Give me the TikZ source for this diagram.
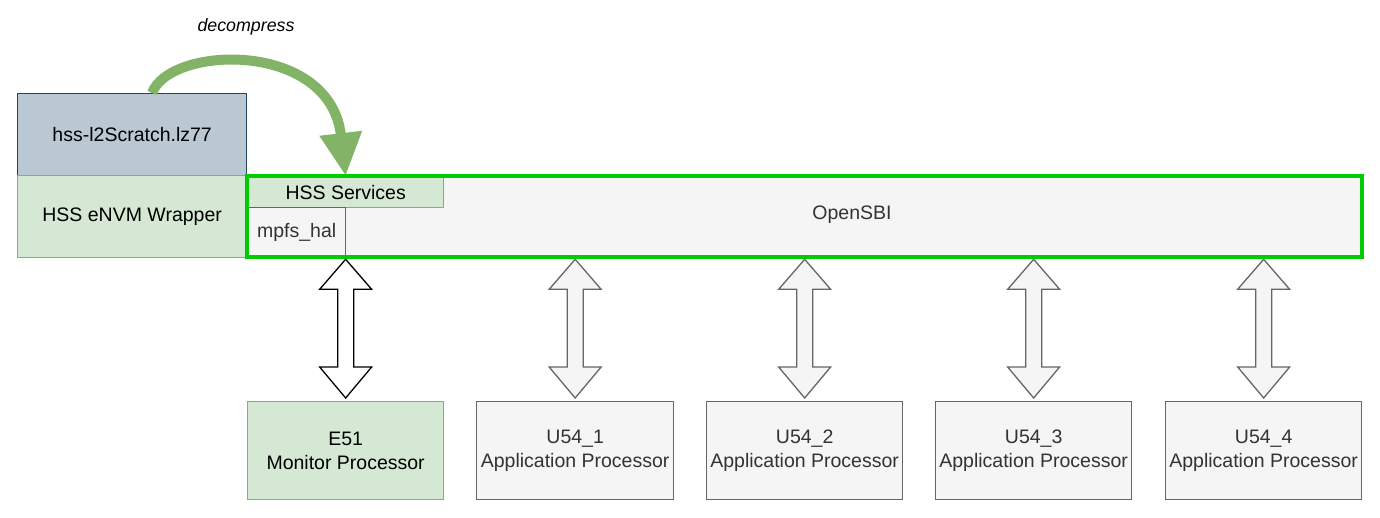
\documentclass[tikz,border=0pt]{standalone}
\usepackage{fontspec}
\setmainfont{Liberation Sans}
\usetikzlibrary{arrows.meta,calc}
\definecolor{blueF}{HTML}{BAC8D3}
\definecolor{blueD}{HTML}{23445D}
\definecolor{greenF}{HTML}{D5E8D4}
\definecolor{greenD}{HTML}{82B366}
\definecolor{grayF}{HTML}{F5F5F5}
\definecolor{grayD}{HTML}{666666}
\definecolor{txtgray}{HTML}{333333}
\definecolor{brightgreen}{HTML}{00CC00}
\tikzset{
  box/.style={draw, line width=1.3pt, anchor=north west, inner sep=0pt, align=center,
    font=\fontsize{19.5}{24}\selectfont},
  bluebox/.style={box, fill=blueF, draw=blueD},
  greenbox/.style={box, fill=greenF, draw=greenD},
  graybox/.style={box, fill=grayF, draw=grayD, text=txtgray},
  sbiborder/.style={draw=brightgreen, line width=4pt},
  dblarrow/.style={line width=1.3pt, line join=miter},
  e51arrow/.style={dblarrow, draw=black, fill=white},
  uarrow/.style={dblarrow, draw=grayD, fill=grayF},
  greenarrow/.style={draw=greenD, line width=10pt, -{Triangle[width=40pt,length=43pt]}},
}
\begin{document}
\begin{tikzpicture}[x=1pt,y=-1pt]
\useasboundingbox (0,0) rectangle (1380,517);

\node[bluebox, minimum width=229pt, minimum height=82pt] (scratch) at (17,93) {hss-l2Scratch.lz77};
\node[greenbox, minimum width=229pt, minimum height=82pt] (wrapper) at (17,175) {HSS eNVM Wrapper};

\node[graybox, draw=none, minimum width=1114pt, minimum height=80pt] (sbi) at (247,176) {};
\node[text=txtgray, font=\fontsize{19.5}{24}\selectfont] (sbitext) at (852,215) {OpenSBI};
\node[greenbox, minimum width=196pt, minimum height=31pt] (hss) at (247,176) {HSS Services};
\node[graybox, minimum width=98pt, minimum height=49pt] (mpfs) at (247,207) {mpfs\_hal};
\draw[sbiborder] (sbi.north west) rectangle (sbi.south east);

\node[greenbox, minimum width=196pt, minimum height=98pt] (e51) at (247,401) {E51\\Monitor Processor};
\node[graybox, minimum width=197pt, minimum height=98pt] (u1) at (476,401) {U54\_1\\Application Processor};
\node[graybox, minimum width=196pt, minimum height=98pt] (u2) at (706,401) {U54\_2\\Application Processor};
\node[graybox, minimum width=196pt, minimum height=98pt] (u3) at (935,401) {U54\_3\\Application Processor};
\node[graybox, minimum width=196pt, minimum height=98pt] (u4) at (1165,401) {U54\_4\\Application Processor};

\foreach \b/\st in {e51/e51arrow, u1/uarrow, u2/uarrow, u3/uarrow, u4/uarrow}{
  \draw[\st] ($(\b.north |- sbi.south)+(0,2)$) coordinate (t)
    -- ++(26,30) -- ++(-18,0) -- ($(\b.north)+(8,-34)$) -- ++(18,0)
    -- ($(\b.north)+(0,-3)$) -- ++(-26,-31) -- ++(18,0)
    -- ($(t)+(-8,30)$) -- ++(-18,0) -- cycle;
}

\draw[greenarrow] ($(scratch.north west)+(135,0)$) .. controls (170,45) and (330,40) .. (hss.north);
\node[font=\fontsize{17.8}{22}\selectfont\itshape] (dec) at (246,27) {decompress};
\end{tikzpicture}
\end{document}
